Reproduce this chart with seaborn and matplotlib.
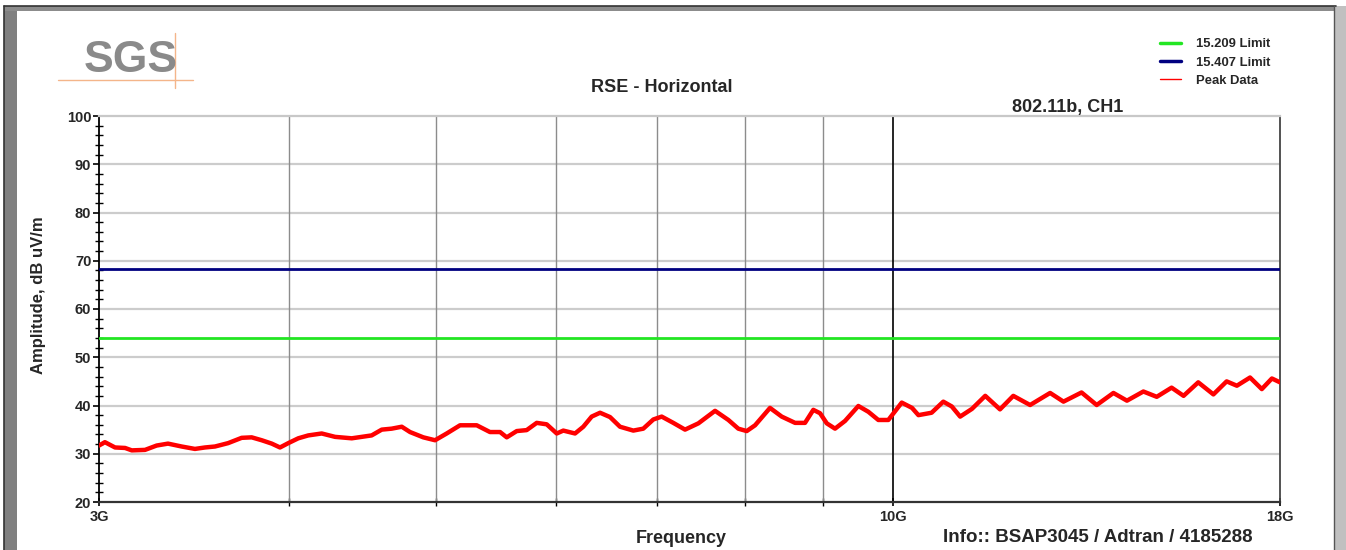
import matplotlib
matplotlib.use("Agg")
import matplotlib.pyplot as plt
import matplotlib.ticker as mticker
from matplotlib.lines import Line2D
from matplotlib.patches import Rectangle
import seaborn as sns
import pandas as pd

# Peak trace (GHz, dBuV/m)
freq_ghz = [3.000, 3.027, 3.074, 3.121, 3.153, 3.217, 3.274, 3.331, 3.401, 3.470,
            3.523, 3.577, 3.649, 3.725, 3.782, 3.840, 3.899, 3.948, 3.998, 4.059,
            4.121, 4.206, 4.292, 4.402, 4.469, 4.537, 4.607, 4.677, 4.749, 4.809,
            4.907, 4.995, 5.084, 5.188, 5.321, 5.429, 5.513, 5.569, 5.654, 5.740,
            5.828, 5.917, 6.008, 6.068, 6.177, 6.255, 6.335, 6.416, 6.514, 6.613,
            6.748, 6.851, 6.956, 7.045, 7.170, 7.299, 7.448, 7.639, 7.795, 7.913,
            8.015, 8.117, 8.303, 8.452, 8.625, 8.756, 8.867, 8.958, 9.050, 9.164,
            9.304, 9.494, 9.639, 9.786, 9.936, 10.14, 10.30, 10.40, 10.61, 10.80,
            10.94, 11.08, 11.28, 11.51, 11.77, 12.01, 12.32, 12.70, 12.96, 13.32,
            13.63, 13.98, 14.27, 14.63, 14.93, 15.27, 15.55, 15.90, 16.27, 16.60,
            16.86, 17.20, 17.51, 17.78, 18.00]
peak_dbuv = [31.7, 32.4, 31.3, 31.2, 30.7, 30.8, 31.7, 32.1, 31.5, 31.0,
             31.3, 31.5, 32.2, 33.3, 33.4, 32.8, 32.1, 31.3, 32.2, 33.2,
             33.8, 34.2, 33.5, 33.2, 33.5, 33.8, 35.0, 35.2, 35.6, 34.5,
             33.4, 32.8, 34.2, 35.9, 35.9, 34.5, 34.5, 33.4, 34.7, 34.9,
             36.4, 36.1, 34.2, 34.8, 34.2, 35.6, 37.7, 38.5, 37.6, 35.6,
             34.8, 35.2, 37.1, 37.7, 36.4, 35.0, 36.3, 38.9, 37.0, 35.2,
             34.7, 35.9, 39.5, 37.7, 36.4, 36.4, 39.1, 38.4, 36.3, 35.2,
             36.8, 39.9, 38.7, 37.0, 37.0, 40.6, 39.5, 38.0, 38.5, 40.8,
             39.8, 37.7, 39.3, 42.0, 39.2, 42.0, 40.1, 42.6, 40.8, 42.7,
             40.1, 42.6, 41.0, 42.9, 41.8, 43.7, 42.0, 44.8, 42.3, 45.0,
             44.1, 45.8, 43.4, 45.6, 44.8]

limit_15209 = 54.0
limit_15407 = 68.2
legend_labels = ["15.209 Limit", "15.407 Limit", "Peak Data"]
x_major = [3, 10, 18]
x_major_labels = ["3G", "10G", "18G"]
x_minor = [4, 5, 6, 7, 8, 9]

df = pd.DataFrame({"freq": freq_ghz, "amp": peak_dbuv})

sns.set_style("white")
plt.rcParams["font.family"] = ["Liberation Sans", "DejaVu Sans"]
plt.rcParams["font.weight"] = "bold"

W, H = 1346, 550
fig = plt.figure(figsize=(W / 100, H / 100), dpi=100)
ax = fig.add_axes([99 / W, 48 / H, 1181 / W, 386 / H])

# grid, drawn by hand to get the mixed colours
for y in range(30, 100, 10):
    ax.axhline(y, color="#cccccc", lw=1.6, zorder=1)
for f in x_minor:
    ax.axvline(f, color="#8c8c8c", lw=1.0, zorder=1)
ax.axvline(10, color="black", lw=1.2, zorder=1)

ax.axhline(limit_15209, color="#22e622", lw=2.0, zorder=3)
ax.axhline(limit_15407, color="#000080", lw=2.0, zorder=3)
sns.lineplot(data=df, x="freq", y="amp", color="red", lw=3.2, ax=ax,
             legend=False, zorder=4)

ax.set_xscale("log")
ax.set_xlim(3, 18)
ax.set_ylim(20, 100)
ax.xaxis.set_major_locator(mticker.FixedLocator(x_major))
ax.xaxis.set_major_formatter(mticker.FixedFormatter(x_major_labels))
ax.xaxis.set_minor_locator(mticker.FixedLocator(x_minor))
ax.xaxis.set_minor_formatter(mticker.NullFormatter())
ax.yaxis.set_major_locator(mticker.MultipleLocator(10))
ax.yaxis.set_minor_locator(mticker.MultipleLocator(2))

ax.tick_params(axis="y", which="major", direction="inout", length=9, width=1.2,
               labelsize=10.5, pad=1, left=True, color="black")
ax.tick_params(axis="y", which="minor", direction="inout", length=6, width=1.0,
               left=True, color="black")
ax.tick_params(axis="x", which="major", direction="inout", length=6, width=1.2,
               labelsize=10.5, pad=3, bottom=True, color="black")
ax.tick_params(axis="x", which="minor", direction="inout", length=6, width=1.0,
               bottom=True, color="black")
for lab in ax.get_xticklabels() + ax.get_yticklabels():
    lab.set_fontweight("bold")

ax.spines["left"].set_color("black")
ax.spines["left"].set_linewidth(1.3)
ax.spines["bottom"].set_color("#333333")
ax.spines["bottom"].set_linewidth(1.6)
ax.spines["top"].set_color("#c8c8c8")
ax.spines["top"].set_linewidth(1.6)
ax.spines["right"].set_color("#444444")
ax.spines["right"].set_linewidth(1.3)

ax.set_xlabel("Frequency", fontsize=13, fontweight="bold", va="top")
ax.xaxis.set_label_coords((681 - 99) / 1181, -(530 - 502) / 386)
ax.set_ylabel("Amplitude, dB uV/m", fontsize=12, fontweight="bold")
ax.yaxis.set_label_coords(-53 / 1181, (502 - 295) / 386)

fig.text(662 / W, 1 - 88 / H, "RSE - Horizontal", fontsize=13, fontweight="bold",
         ha="center", va="center")
fig.text(1068 / W, 1 - 108 / H, "802.11b, CH1", fontsize=13, fontweight="bold",
         ha="center", va="center")
fig.text(1098 / W, 1 - 537 / H, "Info:: BSAP3045 / Adtran / 4185288", fontsize=13.5,
         fontweight="bold", ha="center", va="center")

# SGS logo
fig.text(131 / W, 1 - 61 / H, "SGS", fontsize=32, fontweight="bold", color="#8a8a8a",
         ha="center", va="center")
fig.add_artist(Line2D([58 / W, 193 / W], [1 - 80 / H, 1 - 80 / H], color="#f4b58a", lw=1.0))
fig.add_artist(Line2D([175 / W, 175 / W], [1 - 33 / H, 1 - 88 / H], color="#f4b58a", lw=1.0))

# legend
handles = [Line2D([], [], color="#22e622", lw=2.5),
           Line2D([], [], color="#000080", lw=2.5),
           Line2D([], [], color="red", lw=1.0)]
fig.legend(handles, legend_labels, loc="upper left",
           bbox_to_anchor=(1160 / W, 1 - 38 / H), frameon=False,
           prop={"size": 9.4, "weight": "bold"}, handlelength=1.6,
           handletextpad=1.15, labelspacing=0.48, borderpad=0, borderaxespad=0)

# window frame around the plot
fig.add_artist(Rectangle((4 / W, 0), 13 / W, 1 - 6 / H, color="#808080", lw=0))
fig.add_artist(Rectangle((4 / W, 1 - 11 / H), 1332 / W, 5 / H, color="#8c8c8c", lw=0))
fig.add_artist(Line2D([4 / W, 1336 / W], [1 - 6 / H, 1 - 6 / H], color="#333333", lw=1.2))
fig.add_artist(Line2D([4 / W, 4 / W], [0, 1 - 6 / H], color="#333333", lw=1.2))
fig.add_artist(Rectangle((1335 / W, 0), 11 / W, 1 - 6 / H, color="#c0c0c0", lw=0))
fig.add_artist(Line2D([1334 / W, 1334 / W], [0, 1 - 6 / H], color="#555555", lw=1.0))

fig.savefig("out.png", dpi=100)
